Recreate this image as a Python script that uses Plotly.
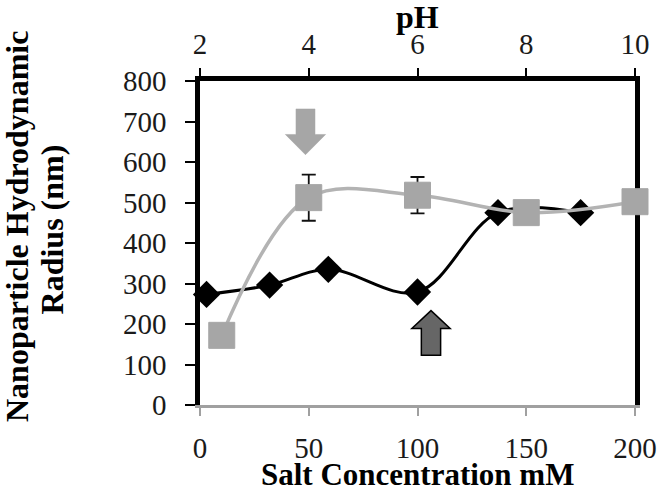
import plotly.graph_objects as go

# Data
salt_mM = [3, 32, 59, 100, 137, 175]          # black diamonds, bottom axis
radius_salt = [273, 296, 335, 279, 475, 475]

pH_vals = [2.4, 4, 6, 8, 10]                  # gray squares, top axis
radius_pH = [172, 512, 518, 475, 502]
err_pH = [0, 57, 45, 0, 0]

x_ticks = [0, 50, 100, 150, 200]
pH_ticks = [2, 4, 6, 8, 10]
y_ticks = [0, 100, 200, 300, 400, 500, 600, 700, 800]

GRAY = "#a6a6a6"
FONT = "Liberation Serif"

PL, PR, PT, PB = 199.5, 635, 81, 405.5   # plot-area edges in window pixels
W, H = 660, 491

def py(abs_y):  # window pixel y -> paper y
    return (PB - abs_y) / (PB - PT)

def px(abs_x):  # window pixel x -> paper x
    return (abs_x - PL) / (PR - PL)

fig = go.Figure()

fig.add_trace(go.Scatter(
    x=pH_vals, y=radius_pH, xaxis="x2", yaxis="y",
    mode="lines+markers",
    line=dict(color="#b3b3b3", width=3.5, shape="spline", smoothing=1),
    marker=dict(symbol="square", size=26, color=GRAY, line=dict(color=GRAY, width=1)),
    error_y=dict(type="data", array=err_pH, visible=True, color="#111111", thickness=1.8, width=7),
    cliponaxis=False, showlegend=False,
))

fig.add_trace(go.Scatter(
    x=salt_mM, y=radius_salt, xaxis="x", yaxis="y",
    mode="lines+markers",
    line=dict(color="#000000", width=3, shape="spline", smoothing=1),
    marker=dict(symbol="diamond", size=21, color="#000000"),
    cliponaxis=False, showlegend=False,
))

# Arrows (annotation shapes)
gc, gsh, ghd = 3.94, 0.175, 0.37
gtop, gbase, gtip = 731, 668, 618
gray_path = (f"M {gc-gsh},{gtop} L {gc+gsh},{gtop} L {gc+gsh},{gbase} L {gc+ghd},{gbase} "
             f"L {gc},{gtip} L {gc-ghd},{gbase} L {gc-gsh},{gbase} Z")
fig.add_shape(type="path", path=gray_path, xref="x2", yref="y",
              fillcolor=GRAY, line=dict(color=GRAY, width=0.5), layer="above")

dc, dsh, dhd = 106.2, 4.43, 8.8
dbot, dbase, dtip = 123, 189, 233
dark_path = (f"M {dc-dsh},{dbot} L {dc+dsh},{dbot} L {dc+dsh},{dbase} L {dc+dhd},{dbase} "
             f"L {dc},{dtip} L {dc-dhd},{dbase} L {dc-dsh},{dbase} Z")
fig.add_shape(type="path", path=dark_path, xref="x", yref="y",
              fillcolor="#666666", line=dict(color="#000000", width=1.5), layer="above")

tickfont = dict(family=FONT, size=29, color="#1a1a1a")
titlefont = dict(family=FONT, size=32, color="#000000")
xtitlefont = dict(family=FONT, size=31, color="#000000")

fig.update_layout(
    width=W, height=H,
    margin=dict(l=PL, r=W - PR, t=PT, b=H - PB),
    paper_bgcolor="white", plot_bgcolor="white",
    xaxis=dict(
        range=[0, 200], tickvals=x_ticks, ticktext=[str(v) for v in x_ticks],
        showgrid=False, zeroline=False, automargin=False,
        showline=True, linecolor="#a0a0a0", linewidth=2.5,
        ticks="outside", ticklen=8, tickcolor="#a0a0a0", tickwidth=1.5,
        tickfont=tickfont, ticklabelstandoff=7,
        layer="below traces",
    ),
    xaxis2=dict(
        range=[2, 10], tickvals=pH_ticks, ticktext=[str(v) for v in pH_ticks],
        overlaying="x", side="top", anchor="y",
        showgrid=False, zeroline=False, automargin=False,
        showline=True, linecolor="#000000", linewidth=4.5,
        ticks="outside", ticklen=8, tickcolor="#000000", tickwidth=1.5,
        tickfont=tickfont, ticklabelstandoff=3,
        layer="below traces",
    ),
    yaxis=dict(
        range=[0, 800], tickvals=y_ticks, ticktext=[str(v) for v in y_ticks],
        showgrid=False, zeroline=False, automargin=False,
        showline=True, linecolor="#000000", linewidth=4.5, mirror=True,
        ticks="outside", ticklen=10, tickcolor="#000000", tickwidth=1.5,
        tickfont=tickfont, ticklabelstandoff=13,
        layer="below traces",
    ),
    annotations=[
        dict(text="<b>Nanoparticle Hydrodynamic</b>", xref="paper", yref="paper",
             x=px(17), y=py(226.5), textangle=-90, showarrow=False,
             xanchor="center", yanchor="middle", font=titlefont),
        dict(text="<b>Radius (nm)</b>", xref="paper", yref="paper",
             x=px(51), y=py(230), textangle=-90, showarrow=False,
             xanchor="center", yanchor="middle", font=titlefont),
        dict(text="<b>Salt Concentration mM</b>", xref="paper", yref="paper",
             x=px(417), y=py(475), showarrow=False,
             xanchor="center", yanchor="middle", font=xtitlefont),
        dict(text="<b>pH</b>", xref="paper", yref="paper",
             x=px(417), y=py(17), showarrow=False,
             xanchor="center", yanchor="middle", font=titlefont),
    ],
)

fig.write_html(
    "out.html",
    config={"displayModeBar": False},
    post_script="document.body.style.margin='0';document.body.style.overflow='hidden';",
)
